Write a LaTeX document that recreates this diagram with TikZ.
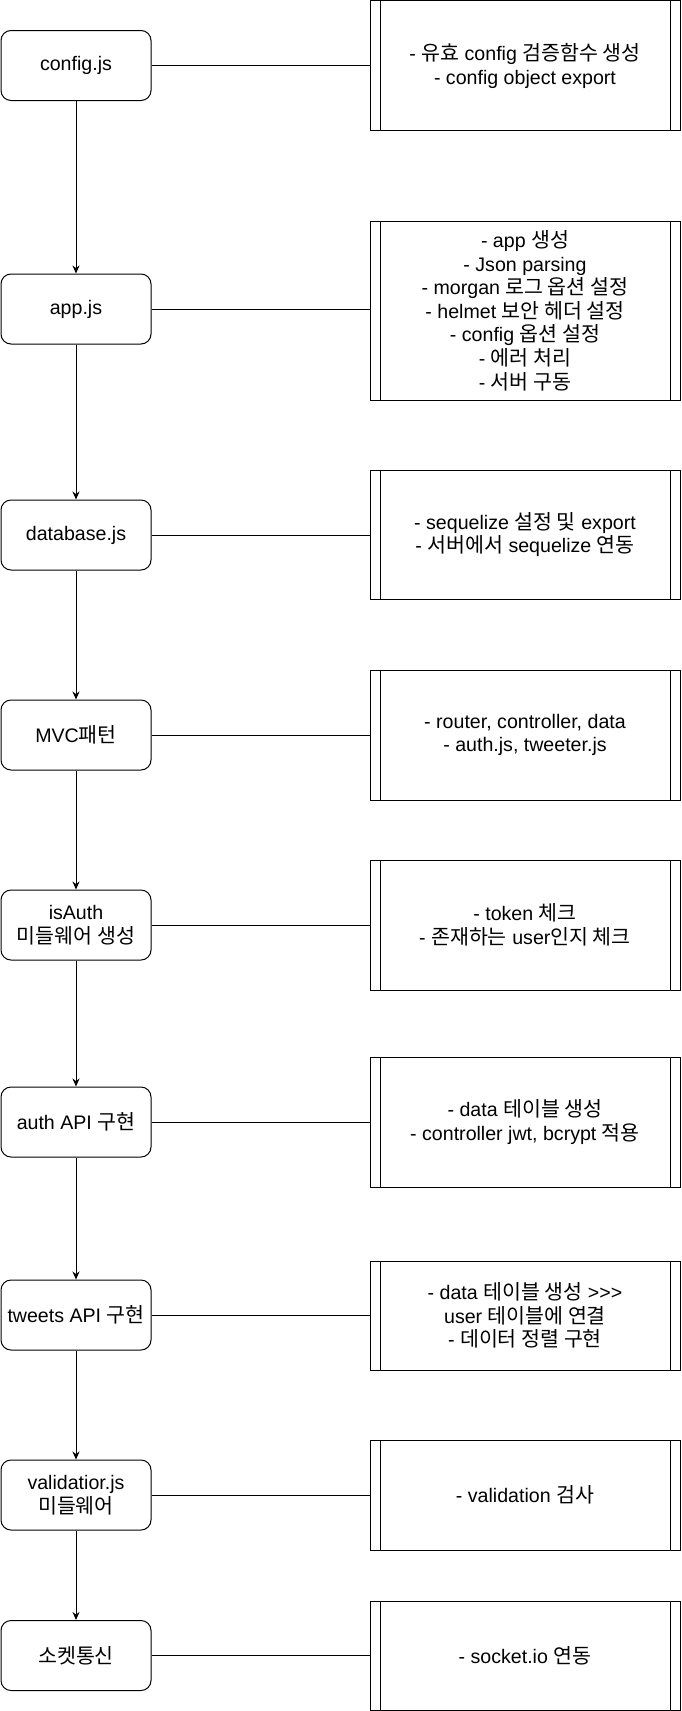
\documentclass[tikz,border=0pt]{standalone}
\usepackage{fontspec}
\setmainfont{Liberation Sans}
\newfontfamily\kr[Scale=1.05]{Noto Sans CJK KR}
\newcommand{\K}[1]{{\kr #1}}
\usetikzlibrary{arrows.meta}
\begin{document}
\begin{tikzpicture}[x=1pt,y=-1pt,
  every node/.style={font=\fontsize{19.6}{23.6}\selectfont},
  leftbox/.style={draw,line width=1pt,rounded corners=10pt,fill=white,
    minimum width=150pt,minimum height=70pt,inner sep=0pt,align=center},
  procbox/.style={draw,line width=1pt,fill=white,minimum width=310pt,inner sep=0pt,align=center,
    path picture={
      \draw[line width=1pt] ([xshift=10pt]path picture bounding box.north west) -- ([xshift=10pt]path picture bounding box.south west);
      \draw[line width=1pt] ([xshift=-10pt]path picture bounding box.north east) -- ([xshift=-10pt]path picture bounding box.south east);}},
  arr/.style={line width=1pt,-{Stealth[length=8pt,width=7pt]}},
  conn/.style={line width=1pt}]
\useasboundingbox (0,0) rectangle (681,1711);

\node[leftbox] (l1) at (76,65.5) {config.js};
\node[leftbox] (l2) at (76,309) {app.js};
\node[leftbox] (l3) at (76,535) {database.js};
\node[leftbox] (l4) at (76,735) {MVC\K{패턴}};
\node[leftbox] (l5) at (76,925) {isAuth\\\K{미들웨어 생성}};
\node[leftbox] (l6) at (76,1122) {auth API \K{구현}};
\node[leftbox] (l7) at (76,1315) {tweets API \K{구현}};
\node[leftbox] (l8) at (76,1495) {validatior.js\\\K{미들웨어}};
\node[leftbox] (l9) at (76,1655.5) {\K{소켓통신}};

\node[procbox,minimum height=130pt] (r1) at (525,65.75) {- \K{유효} config \K{검증함수 생성}\\- config object export};
\node[procbox,minimum height=179pt] (r2) at (525,310.5) {- app \K{생성}\\- Json parsing\\- morgan \K{로그 옵션 설정}\\- helmet \K{보안 헤더 설정}\\- config \K{옵션 설정}\\- \K{에러 처리}\\- \K{서버 구동}};
\node[procbox,minimum height=129pt] (r3) at (525,534.5) {- sequelize \K{설정 및} export\\- \K{서버에서} sequelize \K{연동}};
\node[procbox,minimum height=130pt] (r4) at (525,735) {- router, controller, data\\- auth.js, tweeter.js};
\node[procbox,minimum height=130pt] (r5) at (525,925) {- token \K{체크}\\- \K{존재하는} user\K{인지 체크}};
\node[procbox,minimum height=130pt] (r6) at (525,1122) {- data \K{테이블 생성}\\- controller jwt, bcrypt \K{적용}};
\node[procbox,minimum height=109pt] (r7) at (525,1315.5) {- data \K{테이블 생성} >\kern0pt>\kern0pt>\\user \K{테이블에 연결}\\- \K{데이터 정렬 구현}};
\node[procbox,minimum height=110pt] (r8) at (525,1495) {- validation \K{검사}};
\node[procbox,minimum height=109pt] (r9) at (525,1655.5) {- socket.io \K{연동}};

\foreach \i in {1,...,9}{\draw[conn] (l\i.east) -- (l\i.east -| r\i.west);}
\foreach \i/\j in {1/2,2/3,3/4,4/5,5/6,6/7,7/8,8/9}{\draw[arr] (l\i) -- (l\j);}
\end{tikzpicture}
\end{document}
